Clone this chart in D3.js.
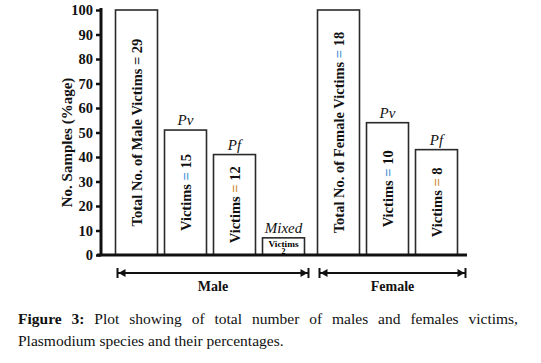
<!DOCTYPE html>
<html>
<head>
<meta charset="utf-8">
<script src="https://cdn.jsdelivr.net/npm/d3@7"></script>
<style>
  body { margin: 0; background: #fff; }
  #chart { position: relative; width: 541px; height: 363px; }
  .caption {
    position: absolute; left: 18px; width: 500px;
    font-family: "Liberation Serif", serif; font-size: 15.5px; line-height: 22px;
    color: #111; white-space: nowrap;
  }
  .caption.l1 { top: 308px; text-align: justify; text-align-last: justify; }
  .caption.l2 { top: 330px; }
</style>
</head>
<body>
<div id="chart"></div>
<script>
// bar data
const ids = ["mTotal", "mPv", "mPf", "mMix", "fTotal", "fPv", "fPf"];
const groups = ["Male", "Male", "Male", "Male", "Female", "Female", "Female"];
const values = [100, 51, 41, 7, 100, 54, 43];
const topLabels = ["", "Pv", "Pf", "Mixed", "", "Pv", "Pf"];
const innerText = ["Total No. of Male Victims", "Victims", "Victims", "Victims",
                   "Total No. of Female Victims", "Victims", "Victims"];
const counts = ["29", "15", "12", "2", "18", "10", "8"];
const eqColors = ["#222", "#3f8fd2", "#d08a2c", "#222", "#3f8fd2", "#3f8fd2", "#d08a2c"];
const yTicks = [0, 10, 20, 30, 40, 50, 60, 70, 80, 90, 100];
const groupNames = ["Male", "Female"];

const serif = '"Liberation Serif", serif';

const svg = d3.select("#chart").append("svg")
    .attr("width", 541)
    .attr("height", 363)
    .style("position", "absolute")
    .style("left", 0).style("top", 0)
    .attr("font-family", serif);

const y = d3.scaleLinear().domain([0, 100]).range([255, 10]);
const x = d3.scaleBand().domain(ids).range([112, 455])
    .paddingInner(0.143).paddingOuter(0.0715);
const femaleShift = 6;
const bx = (d, i) => x(d) + (groups[i] === "Female" ? femaleShift : 0);
const bw = x.bandwidth();

// bars
const bars = svg.append("g");
ids.forEach((id, i) => {
  const x0 = bx(id, i);
  bars.append("rect")
    .attr("x", x0)
    .attr("y", y(values[i]))
    .attr("width", bw)
    .attr("height", y(0) - y(values[i]))
    .attr("fill", "#fff")
    .attr("stroke", "#2a2a2a")
    .attr("stroke-width", 1.6);

  if (topLabels[i]) {
    svg.append("text")
      .attr("x", x0 + bw / 2)
      .attr("y", y(values[i]) - 5)
      .attr("text-anchor", "middle")
      .attr("font-style", "italic")
      .attr("font-size", 15)
      .attr("fill", "#111")
      .text(topLabels[i]);
  }

  if (values[i] > 20) {
    const cy = (y(values[i]) + y(0)) / 2;
    const t = svg.append("text")
      .attr("transform", `translate(${x0 + bw / 2 + 5},${cy}) rotate(-90)`)
      .attr("text-anchor", "middle")
      .attr("font-weight", "bold")
      .attr("font-size", 14.5)
      .attr("fill", "#111");
    t.append("tspan").text(innerText[i] + " ");
    t.append("tspan").attr("fill", eqColors[i]).text("=");
    t.append("tspan").text(" " + counts[i]);
  } else {
    // small mixed bar: horizontal tiny text
    svg.append("text")
      .attr("x", x0 + bw / 2)
      .attr("y", y(values[i]) + 9)
      .attr("text-anchor", "middle")
      .attr("font-weight", "bold")
      .attr("font-size", 9)
      .attr("textLength", 30)
      .attr("lengthAdjust", "spacingAndGlyphs")
      .text(innerText[i]);
    svg.append("text")
      .attr("x", x0 + bw / 2)
      .attr("y", y(values[i]) + 16.5)
      .attr("text-anchor", "middle")
      .attr("font-weight", "bold")
      .attr("font-size", 8)
      .text(counts[i]);
  }
});

// y axis
const yAxis = svg.append("g")
  .attr("transform", "translate(101,0)")
  .call(d3.axisLeft(y).tickValues(yTicks).tickSize(5).tickPadding(3));
yAxis.attr("font-family", serif);
yAxis.select(".domain").attr("stroke", "#111").attr("stroke-width", 3)
  .attr("d", `M0,${y(100) - 2}V${y(0)}`);
yAxis.selectAll(".tick line").attr("stroke", "#111").attr("stroke-width", 2.5);
yAxis.selectAll(".tick text")
  .attr("font-weight", "bold")
  .attr("font-size", 14.5)
  .attr("fill", "#111");

// x axis line
svg.append("line")
  .attr("x1", 97).attr("x2", 467)
  .attr("y1", y(0)).attr("y2", y(0))
  .attr("stroke", "#111").attr("stroke-width", 3);

// y title
svg.append("text")
  .attr("transform", `translate(72,${(y(0) + y(100)) / 2 + 10}) rotate(-90)`)
  .attr("text-anchor", "middle")
  .attr("font-weight", "bold")
  .attr("font-size", 15)
  .attr("fill", "#111")
  .text("No. Samples (%age)");

// group arrows
const arrowY = 273;
groupNames.forEach(g => {
  const idx = groups.map((d, i) => d === g ? i : -1).filter(i => i >= 0);
  const first = idx[0], last = idx[idx.length - 1];
  const x1 = bx(ids[first], first) + 2;
  const x2 = bx(ids[last], last) + bw + (g === "Male" ? 4 : 8);
  const a = svg.append("g").attr("stroke", "#111").attr("fill", "#111");
  a.append("line").attr("x1", x1).attr("x2", x2)
    .attr("y1", arrowY).attr("y2", arrowY).attr("stroke-width", 2);
  a.append("line").attr("x1", x1).attr("x2", x1)
    .attr("y1", arrowY - 5).attr("y2", arrowY + 5).attr("stroke-width", 2);
  a.append("line").attr("x1", x2).attr("x2", x2)
    .attr("y1", arrowY - 5).attr("y2", arrowY + 5).attr("stroke-width", 2);
  a.append("path").attr("stroke", "none")
    .attr("d", `M${x1 + 1},${arrowY}L${x1 + 8},${arrowY - 4}L${x1 + 8},${arrowY + 4}Z`);
  a.append("path").attr("stroke", "none")
    .attr("d", `M${x2 - 1},${arrowY}L${x2 - 8},${arrowY - 4}L${x2 - 8},${arrowY + 4}Z`);
  svg.append("text")
    .attr("x", (x1 + x2) / 2)
    .attr("y", arrowY + 18)
    .attr("text-anchor", "middle")
    .attr("font-weight", "bold")
    .attr("font-size", 14)
    .attr("fill", "#111")
    .text(g);
});

// caption, two lines as in the figure
d3.select("#chart").append("div")
  .attr("class", "caption l1")
  .html("<b>Figure 3:</b> Plot showing of total number of males and females victims,");
d3.select("#chart").append("div")
  .attr("class", "caption l2")
  .text("Plasmodium species and their percentages.");
</script>
</body>
</html>
